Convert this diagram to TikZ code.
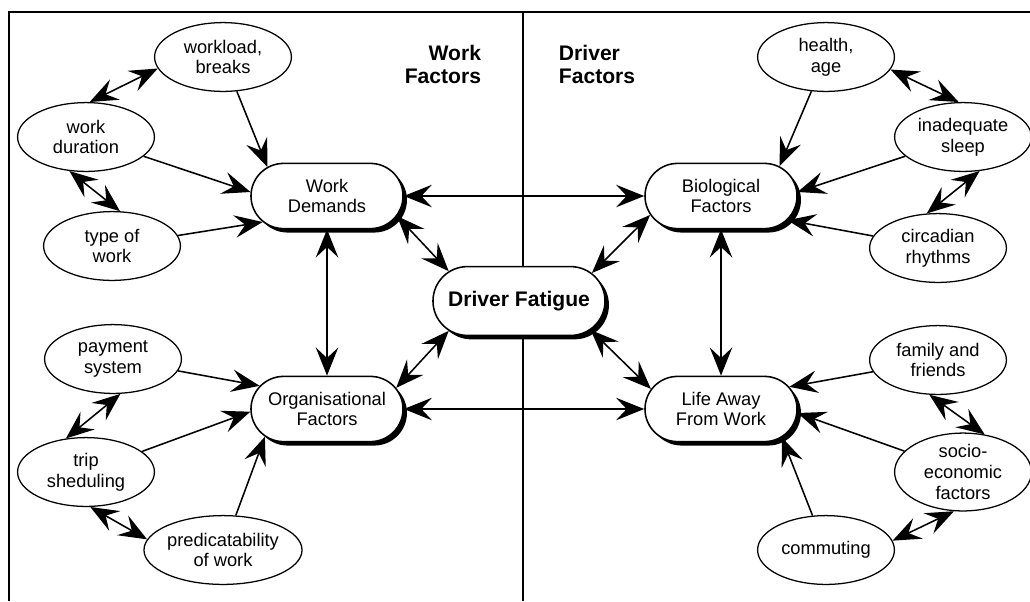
\documentclass[tikz,border=0pt]{standalone}
\usepackage{fontspec}
\setmainfont{Liberation Sans}
\usetikzlibrary{arrows.meta, shapes.geometric, shapes.misc, shadows}

\tikzset{
  factor/.style={draw, ellipse, line width=0.9pt, minimum width=3.42cm, minimum height=1.72cm,
    inner sep=0pt, align=center, font=\fontsize{13}{14.8}\selectfont},
  hub/.style={draw, rounded rectangle, fill=white, line width=1.1pt, minimum width=3.8cm,
    minimum height=1.63cm, inner sep=0pt, align=center, font=\fontsize{13}{14.8}\selectfont,
    drop shadow={shadow xshift=2.8pt, shadow yshift=-2.8pt, opacity=1, fill=black}},
  heading/.style={font=\fontsize{15}{16.4}\selectfont\bfseries},
  link/.style={line width=1.1pt, -{Stealth[length=20pt, width=16pt, inset=7.5pt]}},
  both/.style={line width=1.1pt, {Stealth[length=20pt, width=16pt, inset=7.5pt]}-{Stealth[length=20pt, width=16pt, inset=7.5pt]}},
}

\begin{document}
\begin{tikzpicture}[x=0.025cm, y=-0.025cm]
  \useasboundingbox (0,0) rectangle (1030,601);

  % frame and divider
  \draw[line width=1.3pt] (9,601) -- (9,12) -- (1030,12);
  \draw[line width=1.3pt] (523,12) -- (523,601);

  % headings
  \node[heading, align=right, anchor=east] (wf) at (486,64) {Work\\Factors};
  \node[heading, align=left, anchor=west] (dfac) at (554,64) {Driver\\Factors};

  % main boxes
  \node[hub] (wd) at (327,196) {Work\\Demands};
  \node[hub] (org) at (327,409) {Organisational\\Factors};
  \node[hub] (bio) at (721,196) {Biological\\Factors};
  \node[hub] (life) at (721,409) {Life Away\\From Work};
  \node[hub, minimum width=4.3cm, minimum height=1.72cm,
    font=\fontsize{15}{17}\selectfont\bfseries] (fat) at (519,301) {Driver Fatigue};

  % work side
  \node[factor] (load) at (223,57) {workload,\\breaks};
  \node[factor] (dur) at (86,137) {work\\duration};
  \node[factor] (type) at (112,246) {type of\\work};
  \node[factor] (pay) at (113,359) {payment\\system};
  \node[factor] (trip) at (86,472) {trip\\sheduling};
  \node[factor] (pred) at (223,550) {predicatability\\of work};

  % driver side
  \node[factor] (health) at (826,57) {health,\\age};
  \node[factor] (sleep) at (963,137) {inadequate\\sleep};
  \node[factor] (circ) at (938,248) {circadian\\rhythms};
  \node[factor] (fam) at (938,360) {family and\\friends};
  \node[factor] (socio) at (963,472) {socio-\\economic\\factors};
  \node[factor] (comm) at (826,550) {commuting};

  % links into work demands and organisation
  \draw[link] (load) -- (wd.154);
  \draw[link] (dur) -- (wd.177);
  \draw[link] (type) -- (wd.202);
  \draw[both] (dur.84) -- (load.190);
  \draw[both] (dur.244) -- (type.77);
  \draw[link] (pay) -- (org.161);
  \draw[link] (trip) -- (org.182);
  \draw[link] (pred) -- (org.204);
  \draw[both] (pay.282) -- (trip.121);
  \draw[both] (trip.277) -- (pred.172);

  % links into biological and life away
  \draw[link] (health) -- (bio.27);
  \draw[link] (sleep) -- (bio.3);
  \draw[link] (circ) -- (bio.-20);
  \draw[both] (health.349) -- (sleep.97);
  \draw[both] (sleep.296) -- (circ.108);
  \draw[link] (fam) -- (life.18);
  \draw[link] (socio) -- (life.357);
  \draw[link] (comm) -- (life.335);
  \draw[both] (fam.256) -- (socio.60);
  \draw[both] (socio.257) -- (comm.8);

  % centre
  \draw[both] (wd) -- (bio);
  \draw[both] (wd) -- (org);
  \draw[both] (org) -- (life);
  \draw[both] (bio) -- (life);
  \draw[both] (wd.344) -- (fat.157);
  \draw[both] (org.17) -- (fat.203);
  \draw[both] (bio.195) -- (fat.21);
  \draw[both] (life.164) -- (fat.338);
\end{tikzpicture}
\end{document}
